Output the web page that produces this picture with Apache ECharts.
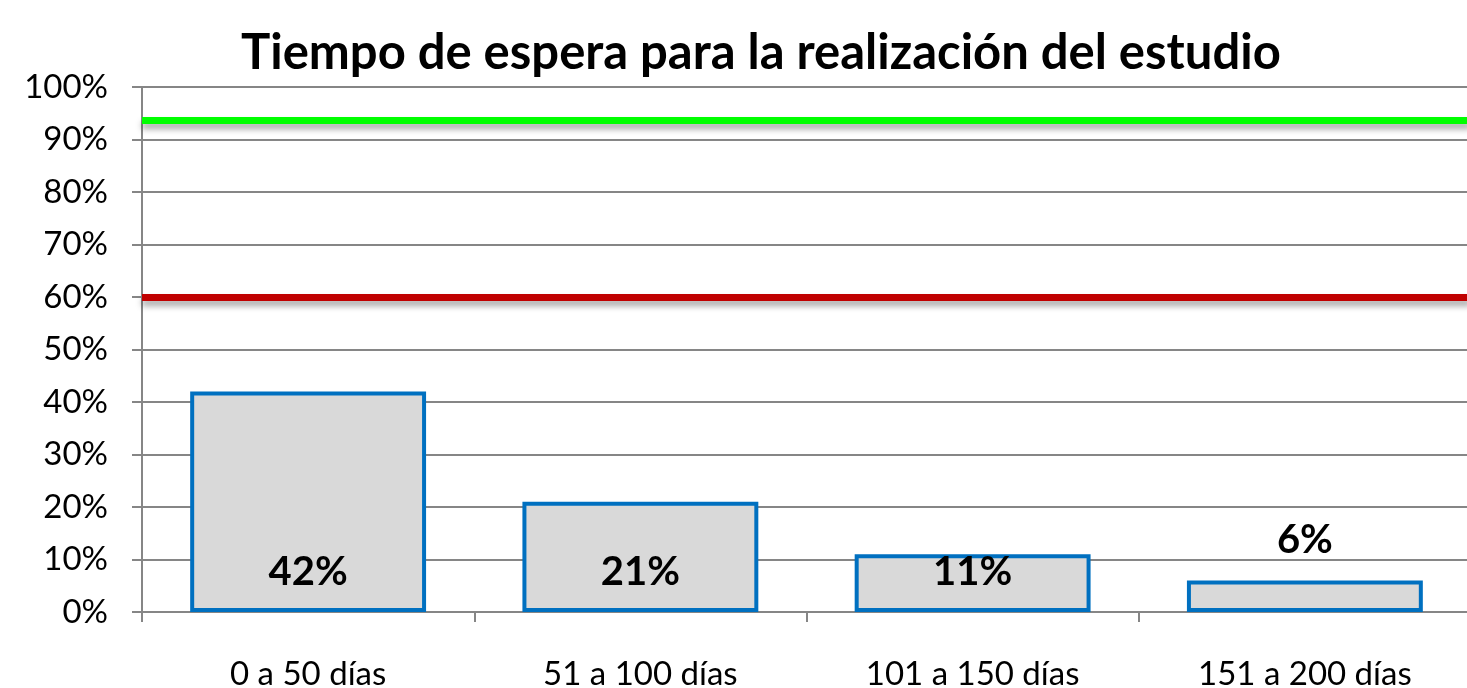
<!DOCTYPE html>
<html><head><meta charset="utf-8">
<script src="https://cdn.jsdelivr.net/npm/echarts@6/dist/echarts.min.js"></script>
<style>html,body{margin:0;padding:0;background:#fff}#c{width:1467px;height:688px}</style>
</head><body><div id="c"></div>
<script>
const title = 'Tiempo de espera para la realización del estudio';
const categories = ['0 a 50 días', '51 a 100 días', '101 a 150 días', '151 a 200 días'];
const values = [42, 21, 11, 6];
const greenLine = 93.7;
const redLine = 60;
const yTicks = {min: 0, max: 100, interval: 10};
const FONT = 'Lato';

const chart = echarts.init(document.getElementById('c'));
chart.setOption({
  animation: false,
  title: {text: title, left: 236, top: 24,
    textStyle: {fontFamily: FONT, fontWeight: 'bold', fontSize: 49, color: '#000'}},
  grid: {left: 142, right: -4, top: 87, bottom: 76, outerBoundsMode: 'none', containLabel: false},
  xAxis: {type: 'category', data: categories, boundaryGap: true,
    axisLine: {lineStyle: {color: '#868686', width: 2}},
    axisTick: {show: true, length: 10, lineStyle: {color: '#868686', width: 2}},
    axisLabel: {fontFamily: FONT, fontSize: 33, color: '#000', margin: 46, interval: 0}},
  yAxis: {type: 'value', min: yTicks.min, max: yTicks.max, interval: yTicks.interval,
    axisLine: {show: true, lineStyle: {color: '#868686', width: 2}},
    axisTick: {show: true, length: 10, lineStyle: {color: '#868686', width: 2}},
    splitLine: {lineStyle: {color: '#868686', width: 2}},
    axisLabel: {fontFamily: FONT, fontSize: 33, color: '#000', margin: 34, formatter: '{value}%'}},
  series: [{
    type: 'bar', data: values.map((v, i) => ({value: v,
      label: i === values.length - 1 ? {position: 'top', distance: 20} : {position: 'insideBottom', distance: 20}})),
    barCategoryGap: '29%',
    itemStyle: {color: '#d9d9d9', borderColor: '#0070c0', borderWidth: 4},
    label: {show: true, formatter: '{c}%', fontFamily: FONT, fontWeight: 'bold', fontSize: 40, color: '#000'},
    markLine: {symbol: 'none', silent: true, label: {show: false},
      data: [
        {yAxis: greenLine, lineStyle: {color: '#00ff00', width: 7, type: 'solid', shadowColor: 'rgba(0,0,0,0.35)', shadowBlur: 6, shadowOffsetY: 5}},
        {yAxis: redLine, lineStyle: {color: '#c00000', width: 7, type: 'solid', shadowColor: 'rgba(0,0,0,0.35)', shadowBlur: 6, shadowOffsetY: 5}}
      ]}
  }]
});
</script></body></html>
